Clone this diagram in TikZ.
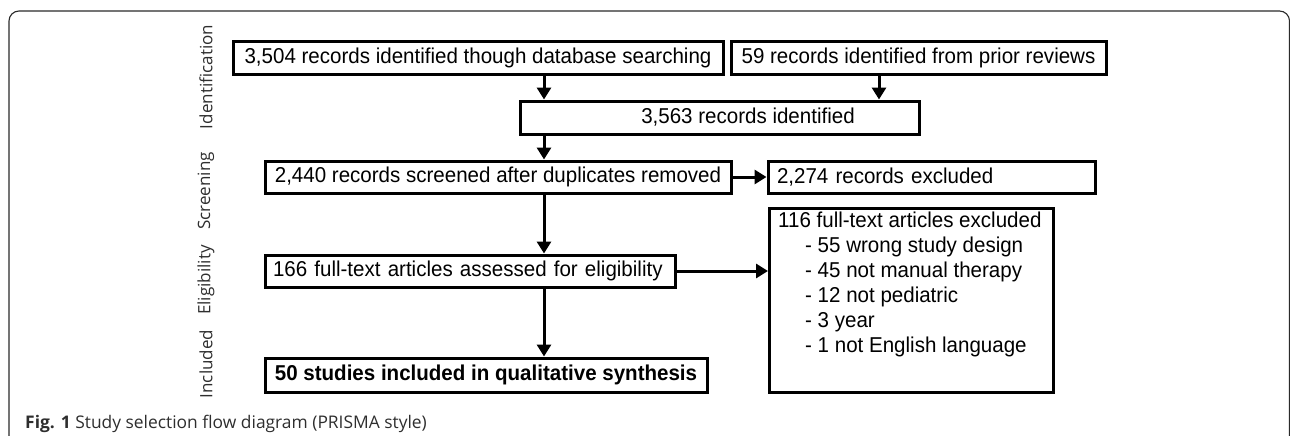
\documentclass[tikz,border=0pt]{standalone}
\usepackage{fontspec}
\setmainfont[FakeStretch=0.955]{Liberation Sans}
\newfontfamily\capfont{Open Sans}
\usetikzlibrary{arrows.meta}
\definecolor{framegray}{HTML}{2A2A2A}
\definecolor{captext}{HTML}{2E2E2E}
\tikzset{
  box/.style={draw=black, line width=3pt, inner sep=0pt, minimum height=33pt,
    font=\fontsize{21.5}{25}\selectfont},
  arr/.style={line width=3pt, -{Triangle[length=12pt,width=14pt]}},
  phase/.style={rotate=90, font=\capfont\fontsize{17}{19}\selectfont, text=captext},
}
\begin{document}
\begin{tikzpicture}[x=1pt,y=-1pt]
\useasboundingbox (0,0) rectangle (1290,436);
% outer frame
\draw[framegray, line width=1.1pt, rounded corners=10pt] (9,440) -- (9,11) -- (1289.5,11) -- (1289.5,440);

% phase labels
\node[phase] (pid) at (206,77) {Identification};
\node[phase] (psc) at (206,191) {Screening};
\node[phase] (pel) at (206,280) {Eligibility};
\node[phase] (pin) at (206,364) {Included};

% boxes
\node[box, minimum width=490pt] (b1) at (478,58) {3,504 records identified though database searching};
\node[box, minimum width=375pt] (b2) at (918.5,58) {59 records identified from prior reviews};
\node[box, minimum width=399pt] (b3) at (719.5,117.5) {\hspace*{57pt}3,563 records identified};
\node[box, minimum width=466pt, minimum height=32pt] (b4) at (498,177) {2,440 records screened after duplicates removed};
\node[box, minimum width=327pt, minimum height=32pt, text width=309pt, inner xsep=9pt, align=left] (b5) at (931.5,177) {2,274 records excluded};
\node[box, minimum width=410pt, minimum height=32pt, text width=402pt, inner xsep=4pt, align=left] (b6) at (470,271) {\hspace*{4pt}166 full-text articles assessed for eligibility};
\node[box, minimum width=442pt, minimum height=34pt, font=\fontsize{21.5}{25}\selectfont\bfseries] (b8) at (486,375) {50 studies included in qualitative synthesis};
\node[box, minimum width=284pt, minimum height=184pt, anchor=north west] (b7) at (768,207) {};
\node[anchor=north west, inner sep=0pt, align=left, font=\fontsize{21.5}{25}\selectfont] (b7t) at (778,212) {116 full-text articles excluded\\
\hspace*{27pt}- 55 wrong study design\\
\hspace*{27pt}- 45 not manual therapy\\
\hspace*{27pt}- 12 not pediatric\\
\hspace*{27pt}- 3 year\\
\hspace*{27pt}- 1 not English language};

% connectors
\coordinate (cx) at (544,0);
\coordinate (cy) at (879,0);
\draw[arr] (b1.south -| cx) -- (b3.north -| cx);
\draw[arr] (b2.south -| cy) -- (b3.north -| cy);
\draw[arr] (b3.south -| cx) -- (b4.north -| cx);
\draw[arr] (b4.east) -- (b5.west);
\draw[arr] (b4.south -| cx) -- (b6.north -| cx);
\draw[arr] (b6.east) -- (b7.west |- b6.east);
\draw[arr] (b6.south -| cx) -- (b8.north -| cx);

% caption
\node[anchor=base west, inner sep=0pt, text=captext, font=\capfont\fontsize{17.4}{20}\selectfont] (cap) at (25,428) {\textbf{Fig. 1} Study selection flow diagram (PRISMA style)};
\end{tikzpicture}
\end{document}
